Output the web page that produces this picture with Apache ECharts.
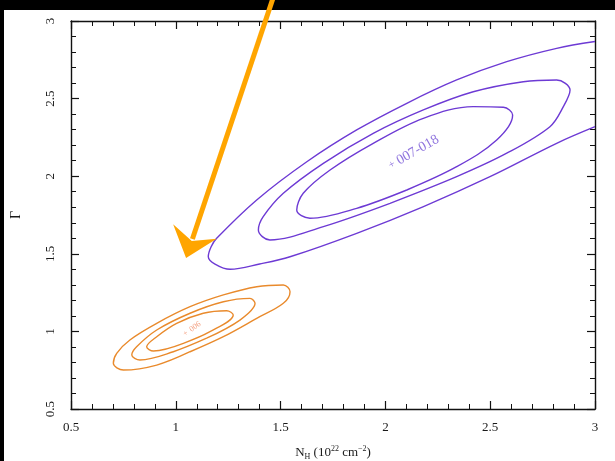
<!DOCTYPE html>
<html>
<head>
<meta charset="utf-8">
<script src="https://cdn.jsdelivr.net/npm/echarts@6/dist/echarts.min.js"></script>
<style>
  html, body { margin: 0; padding: 0; background: #000; }
  #paper { position: absolute; left: 4px; top: 10px; width: 611px; height: 451px; background: #fff; }
  #chart { position: absolute; left: 0; top: 0; width: 615px; height: 461px; }
</style>
</head>
<body>
<div id="paper"></div>
<div id="chart"></div>
<script>
// Confidence contours in the N_H – Γ plane (x: N_H in 1e22 cm^-2, y: photon index Γ)

// Source 007-018: 3 nested contours (outer one runs off the right edge)
const purpleOuter = [
  [3.000, 2.868], [2.817, 2.824], [2.579, 2.738], [2.340, 2.620], [2.102, 2.470],
  [1.863, 2.298], [1.625, 2.093], [1.386, 1.847], [1.195, 1.600], [1.168, 1.544],
  [1.155, 1.481], [1.187, 1.434], [1.259, 1.400], [1.400, 1.434], [1.545, 1.481],
  [1.863, 1.632], [2.179, 1.803], [2.499, 1.997], [2.817, 2.212], [3.000, 2.319]
];
const purpleMiddle = [
  [2.022, 1.825], [2.340, 1.997], [2.579, 2.148], [2.785, 2.319], [2.849, 2.448],
  [2.881, 2.555], [2.817, 2.620], [2.658, 2.609], [2.419, 2.544], [2.181, 2.427],
  [1.942, 2.276], [1.704, 2.083], [1.513, 1.890], [1.417, 1.739], [1.394, 1.653],
  [1.449, 1.589], [1.704, 1.675], [2.022, 1.825]
];
const purpleInner = [
  [2.102, 1.911], [2.340, 2.061], [2.531, 2.233], [2.607, 2.394], [2.563, 2.444],
  [2.419, 2.448], [2.181, 2.373], [1.942, 2.212], [1.736, 2.040], [1.608, 1.890],
  [1.577, 1.782], [1.640, 1.729], [1.863, 1.793], [2.102, 1.911]
];

// Source 006: 3 nested contours
const orangeOuter = [
  [1.068, 0.869], [1.227, 0.966], [1.386, 1.084], [1.513, 1.181], [1.545, 1.256],
  [1.513, 1.299], [1.386, 1.288], [1.227, 1.235], [1.068, 1.159], [0.909, 1.052],
  [0.781, 0.945], [0.718, 0.859], [0.702, 0.794], [0.750, 0.751], [0.909, 0.783],
  [1.068, 0.869]
];
const orangeMiddle = [
  [1.147, 0.956], [1.306, 1.073], [1.378, 1.181], [1.354, 1.213], [1.227, 1.191],
  [1.068, 1.117], [0.909, 1.009], [0.813, 0.901], [0.790, 0.848], [0.829, 0.816],
  [0.988, 0.869], [1.147, 0.956]
];
const orangeInner = [
  [1.036, 0.923], [1.163, 0.998], [1.274, 1.106], [1.243, 1.133], [1.131, 1.117],
  [1.004, 1.052], [0.909, 0.966], [0.861, 0.901], [0.893, 0.874], [1.036, 0.923]
];

// Best-fit positions and their source labels
const bestFitPoints = [[2.031, 2.073], [1.050, 0.990]];
const bestFitNames = ['007-018', '006'];

// Pointer arrow (tail above the frame, tip next to the 007-018 contours)
const arrowTail = [1.464, 3.148];
const arrowTip = [1.049, 1.473];

const PURPLE = '#6d3ad4';
const ORANGE = '#e98a2c';
const SERIF = 'Liberation Serif';

const chart = echarts.init(document.getElementById('chart'), null, { renderer: 'canvas' });

function frameAxis(pos, showLabels) {
  return {
    type: 'value', position: pos, min: 0.5, max: 3, interval: 0.5,
    axisLine: { show: true, onZero: false, lineStyle: { color: '#111', width: 1.4 } },
    axisTick: { show: true, inside: true, length: 8, lineStyle: { color: '#111', width: 1.2 } },
    minorTick: { show: true, splitNumber: 5, length: 5, lineStyle: { color: '#111', width: 1 } },
    splitLine: { show: false },
    axisLabel: { show: showLabels, fontFamily: SERIF, fontSize: 13, color: '#1a1a1a',
                 showMinLabel: true, showMaxLabel: true }
  };
}

const xBottom = Object.assign(frameAxis('bottom', true), {
  name: '{n|N}{s|H}{n| (10}{p|22}{n| cm}{p|−2}{n|)}',
  nameLocation: 'middle', nameGap: 36,
  nameTextStyle: {
    rich: {
      n: { fontFamily: SERIF, fontSize: 13, color: '#1a1a1a', lineHeight: 16 },
      s: { fontFamily: SERIF, fontSize: 8, color: '#1a1a1a', verticalAlign: 'bottom', lineHeight: 8 },
      p: { fontFamily: SERIF, fontSize: 8, color: '#1a1a1a', verticalAlign: 'top', lineHeight: 8 }
    }
  }
});
xBottom.axisLabel.margin = 12;

const yLeft = Object.assign(frameAxis('left', true), {
  name: 'Γ', nameLocation: 'middle', nameGap: 48, nameRotate: 90,
  nameTextStyle: { fontFamily: SERIF, fontSize: 14, color: '#1a1a1a' }
});
yLeft.axisLabel.rotate = 90;
yLeft.axisLabel.margin = 14;

function contour(data, color) {
  return {
    type: 'line', data: data, showSymbol: false, symbol: 'none', smooth: 0.35,
    clip: true, silent: true,
    lineStyle: { color: color, width: 1.4 }
  };
}

function bestFit(i, fontSize, plusSize, rotate, color) {
  return {
    value: bestFitPoints[i],
    label: {
      show: true, position: 'inside', align: 'left', verticalAlign: 'middle',
      rotate: rotate, offset: [-3, 0],
      formatter: '{a|+} {b|' + bestFitNames[i] + '}',
      rich: {
        a: { fontFamily: SERIF, fontSize: plusSize, color: color },
        b: { fontFamily: SERIF, fontSize: fontSize, color: color }
      }
    }
  };
}

chart.setOption({
  animation: false,
  backgroundColor: 'transparent',
  grid: { left: 71, right: 20, top: 21, bottom: 52, containLabel: false, outerBoundsMode: 'none' },
  xAxis: [xBottom, frameAxis('top', false)],
  yAxis: [yLeft, frameAxis('right', false)],
  series: [
    contour(purpleOuter, PURPLE),
    contour(purpleMiddle, PURPLE),
    contour(purpleInner, PURPLE),
    contour(orangeOuter, ORANGE),
    contour(orangeMiddle, ORANGE),
    contour(orangeInner, ORANGE),
    {
      type: 'scatter', symbolSize: 1, silent: true,
      itemStyle: { color: 'rgba(0,0,0,0)' },
      data: [
        bestFit(0, 14, 11, 30, '#7452d6'),
        bestFit(1, 8, 8, 35, '#f0845e')
      ]
    }
  ]
});

// Arrow built in pixel space from its data-space endpoints
const p0 = chart.convertToPixel({ gridIndex: 0 }, arrowTail);
const p1 = chart.convertToPixel({ gridIndex: 0 }, arrowTip);
const dx = p1[0] - p0[0], dy = p1[1] - p0[1];
const len = Math.hypot(dx, dy);
const ux = dx / len, uy = dy / len;     // along the shaft, towards tip
const vx = -uy, vy = ux;                // perpendicular
const headBack = 28, headHalf = 23, notch = 18;
const notchPt = [p1[0] - ux * notch, p1[1] - uy * notch];
const barbA = [p1[0] - ux * headBack + vx * headHalf, p1[1] - uy * headBack + vy * headHalf];
const barbB = [p1[0] - ux * headBack - vx * headHalf, p1[1] - uy * headBack - vy * headHalf];

chart.setOption({
  graphic: [
    {
      type: 'line', z: 100,
      shape: { x1: p0[0], y1: p0[1], x2: notchPt[0] - ux * 2, y2: notchPt[1] - uy * 2 },
      style: { stroke: '#ffa500', lineWidth: 5 }
    },
    {
      type: 'polygon', z: 100,
      shape: { points: [p1, barbA, notchPt, barbB] },
      style: { fill: '#ffa500' }
    }
  ]
});
</script>
</body>
</html>
